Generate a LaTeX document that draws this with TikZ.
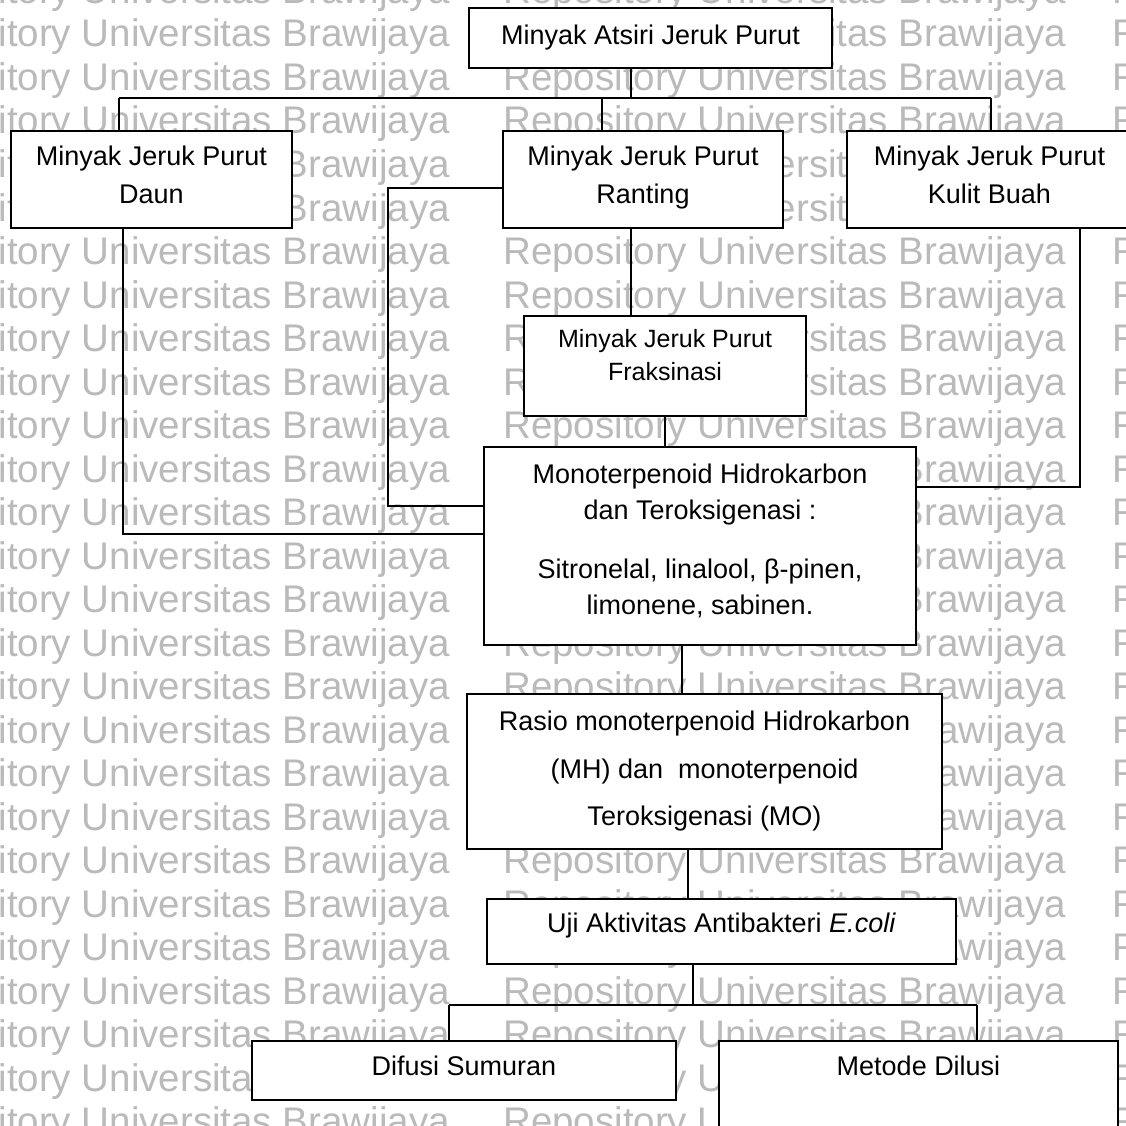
\documentclass[tikz,border=0pt]{standalone}
\usepackage{fontspec}
\setmainfont{Liberation Sans}
\begin{document}
\begin{tikzpicture}[x=1pt,y=-1pt,
  wm/.style={font=\fontsize{38.5}{40}\selectfont, text=black!27, inner sep=0pt, anchor=base west},
  box/.style={draw, line width=1.8pt, fill=white, inner sep=0pt, align=center,
              font=\fontsize{27}{38}\selectfont},
  conn/.style={line width=1.8pt}]
\useasboundingbox (0,0) rectangle (1125,1126);
\fill[white] (0,0) rectangle (1125,1126);
% watermark
\foreach \k in {-1,...,25} {
  \foreach \c/\xx in {0/-113,1/503,2/1112} {
    \node[wm] (wm-\k-\c) at ({\xx},{47+43.5*\k}) {Repository Universitas Brawijaya};
  }
}
% boxes
\node[box, minimum width=363pt, minimum height=60pt] (top) at (650.5,38) {Minyak Atsiri Jeruk Purut};
\node[box, minimum width=281pt, minimum height=97pt, text depth=10pt] (daun) at (151.5,179.5) {Minyak Jeruk Purut\\Daun};
\node[box, minimum width=280pt, minimum height=97pt, text depth=10pt] (rant) at (643,179.5) {Minyak Jeruk Purut\\Ranting};
\node[box, minimum width=285pt, minimum height=97pt, text depth=10pt] (kulit) at (989.5,179.5) {Minyak Jeruk Purut\\Kulit Buah};
\node[box, minimum width=282pt, minimum height=100pt, text depth=22pt, font=\fontsize{25}{33}\selectfont] (frak) at (665,366) {Minyak Jeruk Purut\\Fraksinasi};
\node[box, minimum width=432pt, minimum height=198pt, text depth=14pt, font=\fontsize{27}{36}\selectfont] (mono) at (700,546) {Monoterpenoid Hidrokarbon\\dan Teroksigenasi :\\[23pt]Sitronelal, linalool, β-pinen,\\limonene, sabinen.};
\node[box, minimum width=475pt, minimum height=155pt, font=\fontsize{27}{47.5}\selectfont] (rasio) at (704.5,771.5) {Rasio monoterpenoid Hidrokarbon\\(MH) dan\ \ monoterpenoid\\Teroksigenasi (MO)};
\node[box, minimum width=469pt, minimum height=65pt, text depth=17pt] (uji) at (721.5,931.5) {Uji Aktivitas Antibakteri \textit{E.coli}};
\node[box, minimum width=424pt, minimum height=59pt, text depth=10pt] (difusi) at (464,1070.5) {Difusi Sumuran};
\node[box, minimum width=399pt, minimum height=99pt, text depth=50pt] (metode) at (918.5,1090.5) {Metode Dilusi};
% bus coordinates
\coordinate (b1) at (119,98);
\coordinate (b2) at (991,98);
\coordinate (b3) at (449,1005);
\coordinate (b4) at (977,1005);
% connectors
\draw[conn] ([xshift=-19.5pt]top.south) -- ([xshift=-19.5pt]top.south |- b1);
\draw[conn] (b1) -- (b2);
\draw[conn] (b1) -- (b1 |- daun.north);
\draw[conn] ([xshift=-41pt]rant.north) -- ([xshift=-41pt]rant.north |- b1);
\draw[conn] (b2) -- (b2 |- kulit.north);
\draw[conn] ([xshift=-28.5pt]daun.south) |- ([yshift=12pt]mono.west);
\draw[conn] ([yshift=-8.5pt]rant.west) -- ++(-114,0) |- ([yshift=40pt]mono.west);
\draw[conn] ([xshift=-12pt]rant.south) -- ([xshift=-12pt]rant.south |- frak.north);
\draw[conn] (frak.south) -- (frak.south |- mono.north);
\draw[conn] ([xshift=90.5pt]kulit.south) |- ([yshift=59pt]mono.east);
\draw[conn] ([xshift=-18pt]mono.south) -- ([xshift=-18pt]mono.south |- rasio.north);
\draw[conn] ([xshift=-16.5pt]rasio.south) -- ([xshift=-16.5pt]rasio.south |- uji.north);
\draw[conn] ([xshift=-28.5pt]uji.south) -- ([xshift=-28.5pt]uji.south |- b3);
\draw[conn] (b3) -- (b4);
\draw[conn] (b3) -- (b3 |- difusi.north);
\draw[conn] (b4) -- (b4 |- metode.north);
\end{tikzpicture}
\end{document}
